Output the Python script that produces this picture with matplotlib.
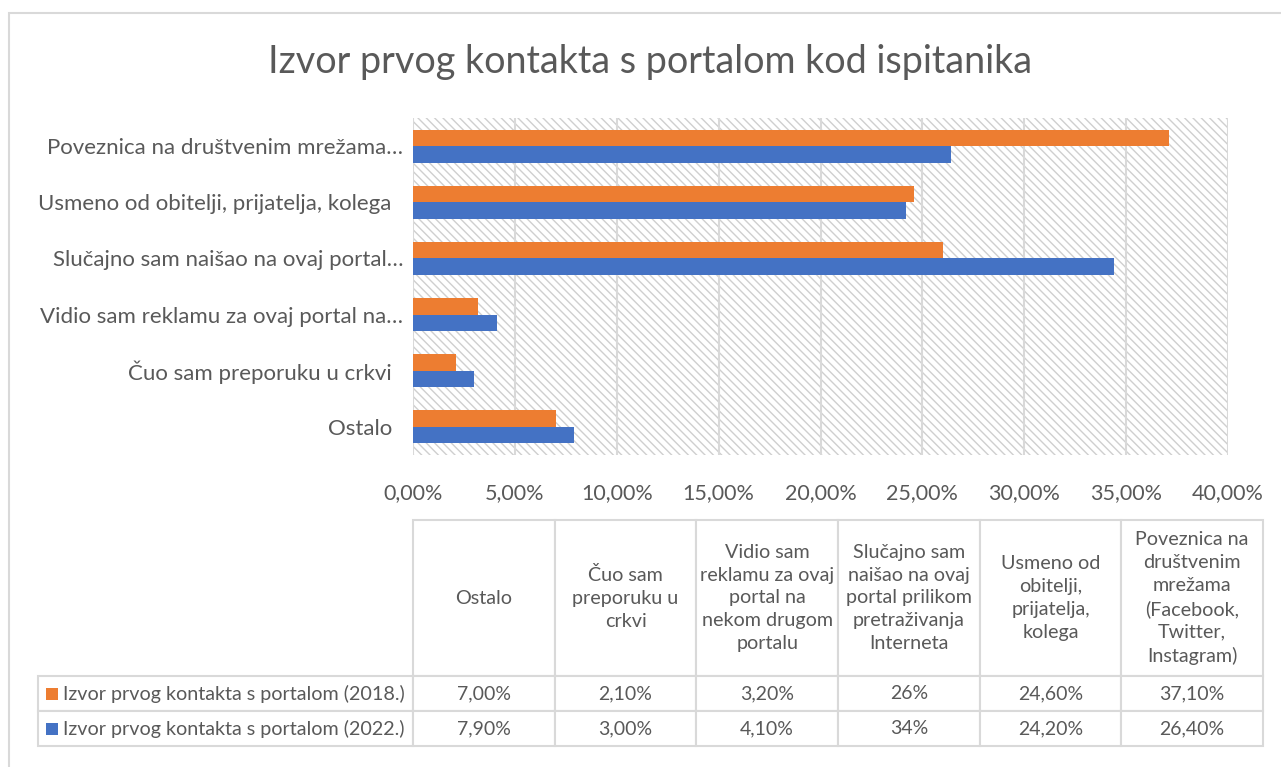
import matplotlib
matplotlib.use("Agg")
import matplotlib.pyplot as plt
from matplotlib.patches import Rectangle

plt.rcParams['font.family'] = ['Lato', 'DejaVu Sans']
plt.rcParams['hatch.linewidth'] = 1.0

# ---------------- data ----------------
categories = ["Ostalo  ", "Čuo sam preporuku u crkvi  ", "Vidio sam reklamu za ovaj portal na…",
              "Slučajno sam naišao na ovaj portal…", "Usmeno od obitelji, prijatelja, kolega  ",
              "Poveznica na društvenim mrežama…"]
table_headers = ["Ostalo", "Čuo sam\npreporuku u\ncrkvi",
                 "Vidio sam\nreklamu za ovaj\nportal na\nnekom drugom\nportalu",
                 "Slučajno sam\nnaišao na ovaj\nportal prilikom\npretraživanja\nInterneta",
                 "Usmeno od\nobitelji,\nprijatelja,\nkolega",
                 "Poveznica na\ndruštvenim\nmrežama\n(Facebook,\nTwitter,\nInstagram)"]
series_names = ["Izvor prvog kontakta s portalom (2018.)", "Izvor prvog kontakta s portalom (2022.)"]
values_2018 = [7.0, 2.1, 3.2, 26.0, 24.6, 37.1]
values_2022 = [7.9, 3.0, 4.1, 34.4, 24.2, 26.4]
table_2018 = ["7,00%", "2,10%", "3,20%", "26%", "24,60%", "37,10%"]
table_2022 = ["7,90%", "3,00%", "4,10%", "34%", "24,20%", "26,40%"]
x_ticks = [0, 5, 10, 15, 20, 25, 30, 35, 40]
x_tick_labels = ["0,00%", "5,00%", "10,00%", "15,00%", "20,00%", "25,00%", "30,00%", "35,00%", "40,00%"]
title = "Izvor prvog kontakta s portalom kod ispitanika"

c2018 = '#ED7D31'
c2022 = '#4472C4'
txt = '#595959'
grid = '#d9d9d9'
hatch_col = '#cfcfcf'

W, H = 1281, 767
fig = plt.figure(figsize=(W / 100, H / 100), dpi=100)

# outer chart border
fig.patches.append(Rectangle((9 / W, -0.1), 1.2, 1 - 13 / H + 0.1, transform=fig.transFigure,
                             fill=False, edgecolor=grid, linewidth=1.5))

ax_l, ax_r, ax_t, ax_b = 413, 1228, 118, 455
ax = fig.add_axes([ax_l / W, 1 - ax_b / H, (ax_r - ax_l) / W, (ax_b - ax_t) / H])

# hatched background
ax.add_patch(Rectangle((0, 0), 1, 1, transform=ax.transAxes, facecolor='white',
                       edgecolor=hatch_col, linewidth=0, hatch='\\\\\\\\', zorder=0))

n = len(categories)
ypos = list(range(n))
bh = 0.295
ax.barh([y + bh / 2 for y in ypos], values_2018, height=bh, color=c2018, zorder=3,
        label=series_names[0])
ax.barh([y - bh / 2 for y in ypos], values_2022, height=bh, color=c2022, zorder=3,
        label=series_names[1])

ax.set_xlim(0, 40)
ax.set_ylim(-0.5, n - 0.5)
ax.set_xticks(x_ticks)
ax.set_xticklabels(x_tick_labels)
ax.set_yticks(ypos)
ax.set_yticklabels(categories)
ax.tick_params(axis='both', length=0, labelcolor=txt)
ax.tick_params(axis='x', pad=20, labelsize=15.5)
ax.tick_params(axis='y', pad=7, labelsize=16)
for xv in x_ticks:
    ax.axvline(xv, color=grid, linewidth=1.5, zorder=1)
for s in ax.spines.values():
    s.set_visible(False)

fig.text(650 / W, 1 - 62 / H, title, ha='center', va='center', fontsize=27.2,
         color=txt, fontweight='normal')

# ---------------- data table ----------------
tbl_l, tbl_r, tbl_t, tbl_b = 413, 1263, 520, 746
tw, th = tbl_r - tbl_l, tbl_b - tbl_t
tax = fig.add_axes([tbl_l / W, 1 - tbl_b / H, tw / W, th / H])
tax.axis('off')
tb = tax.table(cellText=[table_2018, table_2022], rowLabels=series_names,
               colLabels=table_headers, cellLoc='center', rowLoc='left', loc='upper left')
tb._autoColumns = []
tb.AXESPAD = 0
tb.auto_set_font_size(False)
tb.set_fontsize(12)
for (r, c), cell in tb.get_celld().items():
    cell.set_edgecolor(grid)
    cell.set_linewidth(1.5)
    cell.get_text().set_color(txt)
    cell.set_width((375 if c == -1 else tw / 6) / tw)
    cell.set_height((156 if r == 0 else 35) / th)
    if r == 0:
        cell.get_text().set_linespacing(1.42)
        cell.get_text().set_fontsize(14.2)
    elif c == -1:
        cell.PAD = 25 / 375
        cell.get_text().set_fontsize(14.2)
    else:
        cell.get_text().set_fontsize(14)

# legend keys inside the row-label cells
for i, col in enumerate([c2018, c2022]):
    yc = 694 + i * 35
    fig.patches.append(Rectangle((46 / W, 1 - (yc + 6) / H), 12 / W, 12 / H,
                                 transform=fig.transFigure, facecolor=col, edgecolor='none'))

fig.savefig('out.png', dpi=100)
